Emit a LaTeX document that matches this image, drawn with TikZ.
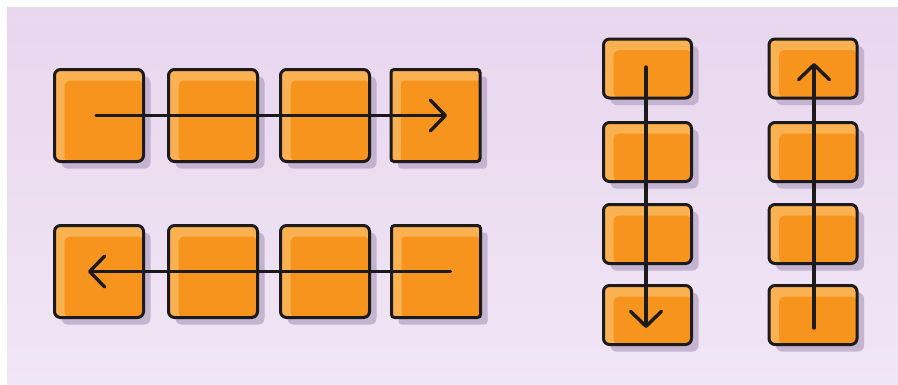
\documentclass[tikz,border=0pt]{standalone}
\usetikzlibrary{arrows.meta,shadows}
\definecolor{bgtop}{HTML}{E8D6EE}
\definecolor{bgbot}{HTML}{F1E6F5}
\definecolor{boxlight}{HTML}{FAB152}
\definecolor{boxdark}{HTML}{F7941E}
\definecolor{ink}{HTML}{1C1A1A}
\definecolor{shadowcol}{HTML}{BBA9C8}
\tikzset{
  tile/.style={draw=ink, line width=3pt, rounded corners=6pt, fill=boxlight,
    inner sep=0pt, outer sep=0pt,
    drop shadow={shadow xshift=7pt, shadow yshift=-7pt, fill=shadowcol, opacity=0.8},
    path picture={\fill[boxdark] ([xshift=10pt,yshift=-11pt]path picture bounding box.north west)
        rectangle (path picture bounding box.south east);}},
  wide/.style={tile, minimum width=89pt, minimum height=92pt},
  flat/.style={tile, minimum width=88pt, minimum height=59pt},
  flow/.style={draw=ink, line width=3.4pt, line cap=round,
    -{Straight Barb[length=15pt,width=31pt,round]}}
}
\begin{document}
\begin{tikzpicture}[x=1pt,y=-1pt]
\useasboundingbox (0,0) rectangle (898,384);
\fill[white] (0,0) rectangle (898,384);
\shade[top color=bgtop, bottom color=bgbot] (7,7) rectangle (898,384);
% top row
\node[wide] (t1) at (99,115.5) {};
\node[wide] (t2) at (213,115.5) {};
\node[wide] (t3) at (325,115.5) {};
\node[wide, rounded corners=3pt] (t4) at (435.5,115.5) {};
% bottom row
\node[wide] (b1) at (99,271.5) {};
\node[wide] (b2) at (213,271.5) {};
\node[wide] (b3) at (325,271.5) {};
\node[wide, rounded corners=3pt] (b4) at (436,271.5) {};
% left column
\node[flat] (l1) at (647.5,68.5) {};
\node[flat] (l2) at (647.5,152) {};
\node[flat] (l3) at (647.5,234) {};
\node[flat] (l4) at (647.5,315) {};
% right column
\node[flat] (r1) at (813,68.5) {};
\node[flat] (r2) at (813,152) {};
\node[flat] (r3) at (813,234) {};
\node[flat] (r4) at (813,315) {};
% arrows
\draw[flow] ([xshift=-3pt]t1.center) -- ([xshift=11.5pt]t4.center);
\draw[flow] ([xshift=14.5pt]b4.center) -- ([xshift=-11pt]b1.center);
\draw[flow] ([xshift=-1.5pt,yshift=1.5pt]l1.center) -- ([xshift=-1.5pt,yshift=-13pt]l4.center);
\draw[flow] ([xshift=1pt,yshift=-13pt]r4.center) -- ([xshift=1pt,yshift=5.5pt]r1.center);
\end{tikzpicture}
\end{document}
